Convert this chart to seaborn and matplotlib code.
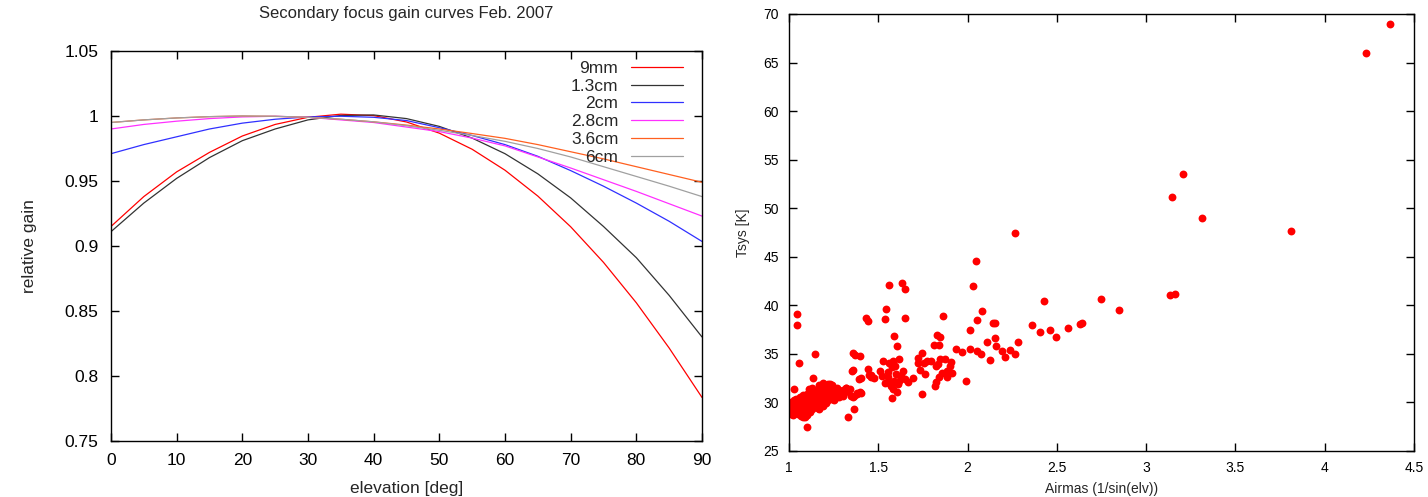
import pandas as pd
import matplotlib
matplotlib.use("Agg")
import matplotlib.pyplot as plt
import seaborn as sns
from matplotlib.ticker import FuncFormatter

# --- left panel: gain curves (every 5 deg) ---
elevation = [0, 5, 10, 15, 20, 25, 30, 35, 40, 45, 50, 55, 60, 65, 70, 75, 80, 85, 90]
gain_9mm = [0.915, 0.938, 0.957, 0.972, 0.9846, 0.9935, 0.999, 1.0014, 1.0003, 0.9954,
            0.9868, 0.9744, 0.9583, 0.9384, 0.9148, 0.8874, 0.8563, 0.8215, 0.7835]
gain_13cm = [0.911, 0.933, 0.952, 0.968, 0.981, 0.990, 0.997, 1.0004, 1.0008, 0.998,
             0.992, 0.983, 0.971, 0.9555, 0.937, 0.915, 0.891, 0.862, 0.830]
gain_2cm = [0.971, 0.978, 0.984, 0.990, 0.9945, 0.9975, 0.9993, 0.9998, 0.999, 0.9965,
            0.991, 0.985, 0.978, 0.969, 0.958, 0.946, 0.933, 0.919, 0.9035]
gain_28cm = [0.990, 0.9935, 0.996, 0.998, 0.9993, 0.9998, 0.999, 0.997, 0.995, 0.9915,
             0.988, 0.983, 0.977, 0.9685, 0.960, 0.951, 0.942, 0.9325, 0.923]
gain_36cm = [0.995, 0.997, 0.9985, 0.9995, 1.0, 0.9997, 0.999, 0.9975, 0.9955, 0.993,
             0.990, 0.9865, 0.9828, 0.978, 0.9725, 0.967, 0.961, 0.955, 0.949]
gain_6cm = [0.995, 0.997, 0.9985, 0.9995, 1.0, 0.9998, 0.999, 0.9975, 0.9955, 0.9925,
            0.989, 0.985, 0.9805, 0.975, 0.9685, 0.961, 0.9535, 0.946, 0.938]

bands = ["9mm", "1.3cm", "2cm", "2.8cm", "3.6cm", "6cm"]
band_colors = ["#ff0000", "#333333", "#3030ff", "#ff30ff", "#ff6020", "#a0a0a0"]

# --- right panel: Tsys vs airmass ---
airmass = [
    # dense cluster near zenith
    1.00, 1.00, 1.01, 1.01, 1.01, 1.02, 1.02, 1.02, 1.03, 1.03, 1.03, 1.04, 1.04, 1.04,
    1.05, 1.05, 1.05, 1.06, 1.06, 1.06, 1.07, 1.07, 1.07, 1.08, 1.08, 1.08, 1.08, 1.09,
    1.09, 1.09, 1.10, 1.10, 1.10, 1.10, 1.11, 1.11, 1.11, 1.12, 1.12, 1.12, 1.12, 1.13,
    1.13, 1.13, 1.14, 1.14, 1.14, 1.14, 1.15, 1.15, 1.15, 1.16, 1.16, 1.16, 1.16, 1.17,
    1.17, 1.17, 1.18, 1.18, 1.18, 1.19, 1.19, 1.19, 1.20, 1.20, 1.20, 1.21, 1.21, 1.21,
    1.22, 1.22, 1.22, 1.23, 1.23, 1.24, 1.24, 1.24, 1.25, 1.25, 1.26, 1.26, 1.27, 1.27,
    1.28, 1.28, 1.29, 1.30, 1.30, 1.31, 1.32, 1.33, 1.34,
    1.19, 1.23, 1.17, 1.13, 1.026, 1.077, 1.09, 1.166, 1.11,
    1.345, 1.294, 1.32, 1.383, 1.396, 1.366,
    # scattered points
    1.044, 1.044, 1.055, 1.144, 1.026, 1.136, 1.103, 1.36, 1.368, 1.398, 1.401, 1.356,
    1.44, 1.459, 1.474, 1.512, 1.526, 1.59, 1.603, 1.615, 1.582, 1.562, 1.577, 1.603,
    1.33, 1.363, 1.403, 1.38, 1.357, 1.353, 1.39, 1.45, 1.46,
    1.694, 1.666, 1.743, 1.761, 1.743, 1.72, 1.72, 1.733, 1.817, 1.824, 1.84, 1.886,
    1.911, 1.899, 1.883, 1.773, 1.796, 1.821, 1.848, 1.873, 1.758, 1.855, 1.834,
    1.537, 1.552, 1.57, 1.588, 1.6, 1.626, 1.613, 1.636, 1.651, 1.554, 1.519, 1.575,
    1.595, 1.616, 1.562, 1.585,
    1.434, 1.444, 1.537, 1.544, 1.649, 1.562, 1.649, 1.634,
    1.81, 1.842, 1.83, 1.848, 1.863, 1.906, 1.934, 1.97, 1.993, 2.013, 2.015, 2.028,
    2.054, 2.074, 2.054, 2.079, 2.123, 2.11, 2.151, 2.143, 2.153, 2.159, 2.192, 2.207,
    2.24, 2.263, 2.283, 2.36, 2.408, 2.459, 2.493, 2.561, 2.628, 2.64, 2.426, 2.847,
    2.747, 3.161, 3.133, 2.049, 2.263, 3.811, 3.311, 3.143, 3.204, 4.231, 4.364,
]
tsys = [
    29.1, 29.8, 28.8, 29.5, 30.0, 29.2, 28.7, 29.9, 29.4, 30.2, 28.9, 29.6, 29.0, 30.4,
    29.3, 28.8, 30.0, 29.7, 29.1, 30.6, 29.5, 28.6, 30.2, 29.9, 29.2, 30.8, 28.5, 29.6,
    30.3, 29.0, 30.0, 29.4, 30.9, 28.7, 29.8, 30.5, 29.2, 30.1, 29.6, 31.0, 29.0, 30.4,
    29.8, 29.3, 30.7, 30.0, 29.5, 31.2, 30.3, 29.7, 30.9, 30.0, 29.4, 30.6, 31.3, 30.2,
    29.8, 31.0, 30.5, 29.9, 31.4, 30.3, 30.8, 29.6, 30.6, 31.1, 30.0, 30.4, 31.6, 29.9,
    30.8, 30.2, 31.9, 30.6, 31.2, 30.4, 31.0, 31.8, 30.7, 30.2, 31.1, 30.5, 30.9, 31.5,
    30.6, 31.2, 30.9, 31.3, 30.7, 31.0, 31.5, 31.2, 31.4,
    32.0, 31.9, 31.8, 31.5, 29.0, 28.6, 28.5, 29.3, 31.4,
    30.7, 31.2, 31.5, 31.0, 31.1, 30.7,
    39.15, 37.95, 34.1, 34.97, 31.4, 32.47, 27.5, 35.1, 34.9, 34.8, 32.5, 33.3,
    33.4, 32.8, 32.5, 33.2, 34.25, 36.8, 35.8, 34.5, 34.3, 34.1, 30.5, 31.1,
    28.5, 29.3, 31.0, 30.9, 30.6, 33.2, 32.4, 32.8, 32.6,
    32.5, 32.15, 30.9, 32.9, 35.1, 34.6, 34.1, 33.3, 31.7, 32.1, 32.6, 32.6,
    33.0, 33.8, 33.25, 34.3, 34.3, 33.8, 34.45, 34.45, 34.1, 33.0, 33.95,
    32.05, 32.6, 31.7, 32.2, 32.9, 32.7, 31.9, 33.2, 32.4, 33.1, 32.75, 33.6,
    33.8, 32.2, 32.05, 31.35,
    38.7, 38.4, 38.6, 39.6, 38.7, 42.1, 41.65, 42.3,
    35.95, 35.95, 36.95, 36.75, 38.9, 34.2, 35.5, 35.2, 32.2, 35.45, 37.5, 42.0,
    35.3, 35.0, 38.5, 39.4, 34.4, 36.2, 38.2, 38.2, 36.6, 35.8, 35.3, 34.7,
    35.4, 34.97, 36.2, 37.95, 37.2, 37.47, 36.75, 37.67, 38.05, 38.2, 40.48, 39.5,
    40.7, 41.2, 41.06, 44.6, 47.46, 47.67, 49.0, 51.2, 53.5, 66.0, 69.0,
]

gain_df = pd.DataFrame({
    "elevation": elevation * len(bands),
    "gain": gain_9mm + gain_13cm + gain_2cm + gain_28cm + gain_36cm + gain_6cm,
    "band": [b for b in bands for _ in elevation],
})
tsys_df = pd.DataFrame({"airmass": airmass, "tsys": tsys})

sns.set_style("white")
plt.rcParams["font.family"] = ["Liberation Sans", "DejaVu Sans"]

fig = plt.figure(figsize=(14.28, 4.97), dpi=100)
ax1 = fig.add_axes([0.0777, 0.1127, 0.4139, 0.7847])
ax2 = fig.add_axes([0.5525, 0.0926, 0.4377, 0.8793])

gfmt = FuncFormatter(lambda v, p: f"{v:g}")

# left: gain curves
sns.lineplot(data=gain_df, x="elevation", y="gain", hue="band", hue_order=bands,
             palette=band_colors, linewidth=0.9, legend=False, ax=ax1)
ax1.set_xlim(0, 90)
ax1.set_ylim(0.75, 1.05)
ax1.set_xticks(range(0, 91, 10))
ax1.set_yticks([0.75, 0.8, 0.85, 0.9, 0.95, 1.0, 1.05])
ax1.yaxis.set_major_formatter(gfmt)
ax1.set_xlabel("elevation [deg]", fontsize=12.5, labelpad=9)
ax1.set_ylabel("relative gain", fontsize=12.5, labelpad=20)
ax1.set_title("Secondary focus gain curves Feb. 2007", fontsize=12, pad=24)
ax1.tick_params(labelsize=12.5, pad=9)
ax1.legend(ax1.lines, bands, loc="upper right", bbox_to_anchor=(0.967, 0.975),
           frameon=False, markerfirst=False, fontsize=12.5, handlelength=2.95,
           handletextpad=0.75, labelspacing=0.15, borderpad=0, borderaxespad=0)

# right: Tsys vs airmass
sns.scatterplot(data=tsys_df, x="airmass", y="tsys", color="#ff0000", s=32,
                linewidth=0, ax=ax2)
ax2.set_xlim(1, 4.5)
ax2.set_ylim(25, 70)
ax2.set_xticks([1, 1.5, 2, 2.5, 3, 3.5, 4, 4.5])
ax2.set_yticks(range(25, 71, 5))
ax2.xaxis.set_major_formatter(gfmt)
ax2.set_xlabel("Airmas (1/sin(elv))", fontsize=10, labelpad=5)
ax2.set_ylabel("Tsys [K]", fontsize=10, labelpad=10)
ax2.tick_params(labelsize=10, pad=7)

for ax in (ax1, ax2):
    ax.tick_params(direction="in", length=6, width=1, top=True, right=True,
                   bottom=True, left=True, colors="black")
    for sp in ax.spines.values():
        sp.set_visible(True)
        sp.set_color("black")
        sp.set_linewidth(1.0)

fig.savefig("out.png", dpi=100)
